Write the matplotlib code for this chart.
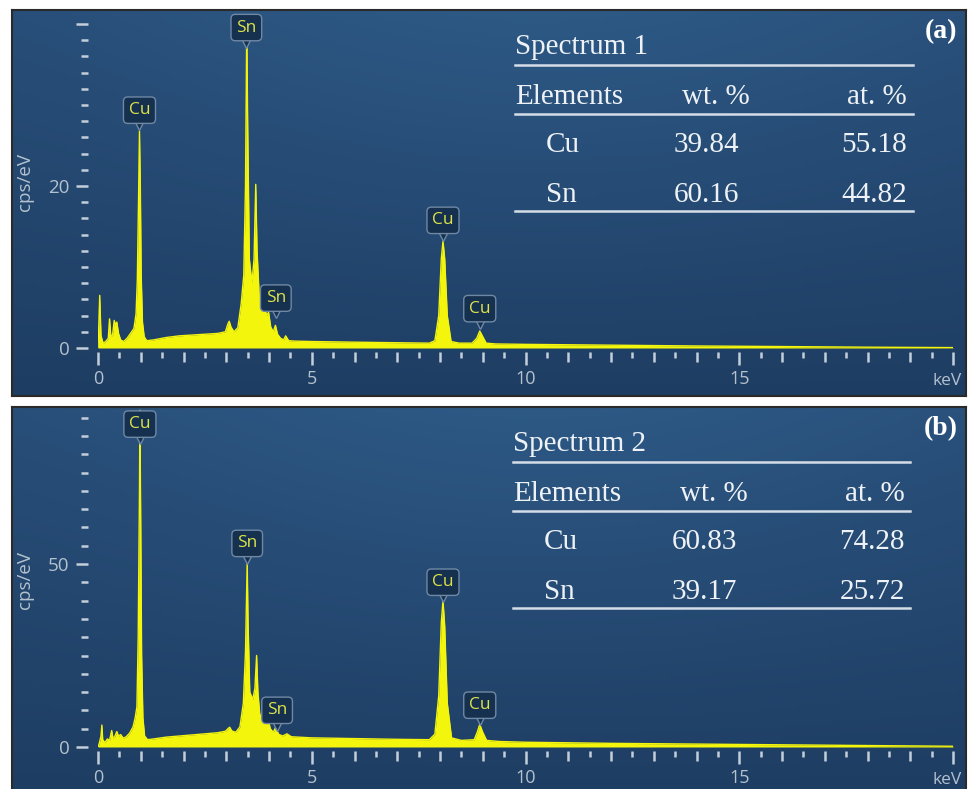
import matplotlib.pyplot as plt
import numpy as np
from matplotlib.transforms import offset_copy

W, H = 969, 789

#%% spectrum (a)
energy_a = [0.00, 0.02, 0.04, 0.07, 0.12, 0.18, 0.24, 0.27, 0.30, 0.34, 0.38, 0.41, 0.44, 0.48,
            0.53, 0.60, 0.68, 0.76, 0.84, 0.89, 0.92, 0.95, 0.97, 0.99, 1.01, 1.04, 1.08, 1.14,
            1.3, 1.6, 1.9, 2.2, 2.5, 2.8, 2.98, 3.04, 3.07, 3.11, 3.18, 3.27, 3.35, 3.41, 3.45,
            3.48, 3.50, 3.54, 3.60, 3.65, 3.69, 3.72, 3.77, 3.83, 3.89, 3.94, 3.99, 4.04, 4.10,
            4.15, 4.20, 4.27, 4.34, 4.39, 4.46, 4.6, 5.0, 6.0, 7.0, 7.75, 7.88, 7.97, 8.03, 8.07,
            8.11, 8.17, 8.26, 8.45, 8.75, 8.86, 8.93, 9.00, 9.08, 9.3, 10, 12, 14, 16, 18, 20]
cps_a = [0.0, 3.0, 6.5, 1.5, 0.6, 0.8, 1.2, 3.6, 1.4, 1.6, 3.4, 2.8, 3.2, 1.8,
         1.0, 0.8, 1.2, 1.8, 2.4, 4.2, 8.5, 19.0, 26.8, 20.0, 9.0, 3.2, 1.4, 0.9,
         1.0, 1.3, 1.5, 1.6, 1.7, 1.8, 2.0, 3.0, 3.3, 2.6, 2.0, 2.5, 5.5, 9.0, 20.0,
         40.0, 28.0, 11.0, 8.0, 11.0, 20.2, 12.0, 6.5, 5.0, 5.5, 4.0, 4.4, 2.6, 2.0,
         2.8, 1.7, 1.2, 1.0, 1.5, 0.9, 0.85, 0.8, 0.72, 0.65, 0.6, 0.9, 4.0, 11.0, 13.2,
         11.0, 4.0, 0.8, 0.6, 0.6, 1.2, 2.1, 1.4, 0.6, 0.5, 0.45, 0.35, 0.25, 0.18, 0.1, 0.05]

#%% spectrum (b)
energy_b = [0.00, 0.03, 0.07, 0.09, 0.11, 0.16, 0.22, 0.27, 0.32, 0.35, 0.39, 0.44, 0.48, 0.53,
            0.59, 0.66, 0.74, 0.82, 0.87, 0.91, 0.94, 0.97, 0.98, 1.00, 1.02, 1.05, 1.09, 1.16,
            1.3, 1.6, 2.0, 2.4, 2.8, 2.98, 3.04, 3.08, 3.13, 3.22, 3.32, 3.40, 3.45, 3.49, 3.51,
            3.55, 3.62, 3.67, 3.71, 3.74, 3.79, 3.85, 3.91, 3.97, 4.03, 4.10, 4.16, 4.22, 4.32,
            4.42, 4.52, 5.0, 6.0, 7.0, 7.75, 7.88, 7.97, 8.03, 8.07, 8.11, 8.17, 8.27, 8.5, 8.8,
            8.87, 8.93, 9.00, 9.09, 9.4, 10, 12, 14, 16, 18, 20]
cps_b = [0.0, 1.0, 3.0, 6.0, 2.0, 1.2, 2.2, 1.8, 4.5, 2.4, 2.8, 4.2, 3.0, 3.4,
         2.4, 2.8, 3.8, 5.5, 8.0, 11.0, 30.0, 70.0, 92.0, 60.0, 25.0, 8.0, 3.0, 2.0,
         2.2, 2.7, 3.1, 3.5, 3.9, 4.3, 5.0, 5.4, 4.4, 4.0, 5.5, 12.0, 26.0, 50.5, 34.0,
         15.0, 13.0, 16.0, 25.0, 15.0, 8.0, 9.5, 7.0, 8.0, 5.0, 4.0, 5.5, 3.5, 3.0,
         3.6, 2.8, 2.5, 2.3, 2.1, 2.0, 3.5, 14.0, 34.0, 40.0, 33.0, 12.0, 2.5, 1.8, 2.0,
         4.0, 6.2, 4.0, 1.8, 1.5, 1.3, 1.0, 0.8, 0.6, 0.4, 0.2]

#%% peak labels
peak_names = ['Cu', 'Sn', 'Sn', 'Cu', 'Cu']
peak_kev_a = [0.97, 3.47, 4.16, 8.07, 8.93]
peak_tip_a = [27.0, 37.2, 3.8, 13.4, 2.5]
peak_kev_b = [0.98, 3.49, 4.19, 8.07, 8.93]
peak_tip_b = [83.0, 50.4, 4.8, 39.8, 6.2]

#%% quantification tables
elements = ['Cu', 'Sn']
wt_a = ['39.84', '60.16']
at_a = ['55.18', '44.82']
wt_b = ['60.83', '39.17']
at_b = ['74.28', '25.72']

kev_ticks = list(range(0, 21))
kev_labels = ['0', '5', '10', '15']
cps_ticks_a = [0, 20, 40]
cps_labels_a = ['0', '20', '']
cps_ticks_b = [0, 50]
cps_labels_b = ['0', '50']

YEL = '#f4f50c'
TICK = '#c3cedb'
LAB = '#b4c1cf'
TXT = '#eef2f6'
BOX = '#16304f'
EDGE = '#6f88a4'

fig = plt.figure(figsize=(9.69, 7.89), dpi=100)
fig.patch.set_facecolor('white')


def px_axes(x0, y0, x1, y1):
    return fig.add_axes([x0 / W, 1 - y1 / H, (x1 - x0) / W, (y1 - y0) / H])


# background shading of the instrument window
ny, nx = 120, 240
ty = np.linspace(1, 0, ny)[:, None]
tx = np.exp(-((np.linspace(0, 1, nx)[None, :] - 0.55) / 0.5) ** 2)
mix = ty * (0.5 + 0.5 * tx)
dark = np.array([0.118, 0.240, 0.388])
light = np.array([0.178, 0.348, 0.522])
grad = dark[None, None, :] + (light - dark)[None, None, :] * mix[:, :, None]


def panel(top, bottom, zero, scale, energy, cps, kevs, tips, yt, ytl, yminor,
          title, wt, at, tag, tx0, tx1):
    bg = px_axes(12, top, 966, bottom)
    bg.imshow(grad, extent=(12, 966, bottom, top), aspect='auto', zorder=0)
    bg.set_xlim(12, 966)
    bg.set_ylim(bottom, top)
    bg.set_xticks([])
    bg.set_yticks([])
    for s in bg.spines.values():
        s.set_color('#2a2a2a')
        s.set_linewidth(1.5)

    # table
    dx = tx0 - 515
    fkw = dict(fontfamily='Liberation Serif', fontsize=21, color=TXT, va='center')
    bg.text(tx0, top + 37, title, ha='left', **fkw)
    bg.text(tx0, top + 87, 'Elements', ha='left', **fkw)
    bg.text(716 + dx, top + 87, 'wt. %', ha='center', **fkw)
    bg.text(907 + dx, top + 87, 'at. %', ha='right', **fkw)
    for i, el in enumerate(elements):
        yy = top + 135 + 50 * i
        bg.text(tx0 + 31, yy, el, ha='left', **fkw)
        bg.text(706 + dx, yy, wt[i], ha='center', **fkw)
        bg.text(907 + dx, yy, at[i], ha='right', **fkw)
    for ly in (55, 104, 201):
        bg.plot([tx0, tx1], [top + ly, top + ly], color='#d5dee8', lw=1.8)
    bg.text(941, top + 22, tag, fontfamily='Liberation Serif', fontweight='bold',
            fontsize=20, color='white', ha='center', va='center')

    ax = px_axes(98, top, 953, zero)
    ax.patch.set_alpha(0)
    ax.set_xlim(0, 20)
    ax.set_ylim(0, (zero - top) / scale)
    ax.fill_between(energy, cps, 0, color=YEL, lw=0, zorder=2)
    ax.plot(energy, cps, color=YEL, lw=1.0, zorder=2)

    for s in ('top', 'right'):
        ax.spines[s].set_visible(False)
    ax.spines['bottom'].set_position(('outward', 3))
    ax.spines['left'].set_position(('outward', 7))
    ax.spines['bottom'].set_color('none')
    ax.spines['left'].set_color('none')

    ax.set_xticks(kev_ticks)
    ax.set_xticks(np.arange(0.5, 20, 1), minor=True)
    ax.set_xticklabels([str(v) if str(v) in kev_labels else '' for v in kev_ticks])
    ax.tick_params(axis='x', which='major', length=7, width=1.8, color=TICK,
                   labelcolor=LAB, labelsize=13, pad=6)
    ax.tick_params(axis='x', which='minor', length=4.5, width=1.8, color=TICK)
    for loc, tk in zip(ax.xaxis.get_majorticklocs(), ax.xaxis.get_major_ticks()):
        if loc % 5 == 0:
            tk.tick1line.set_markersize(9.5)

    ax.set_yticks(yt)
    ax.set_yticklabels(ytl)
    ax.set_yticks(np.arange(0, ax.get_ylim()[1], yminor), minor=True)
    ax.tick_params(axis='y', which='major', length=8.5, width=1.8, color=TICK,
                   labelcolor=LAB, labelsize=13.5, pad=5)
    ax.tick_params(axis='y', which='minor', length=5, width=1.8, color=TICK)
    for lab in ax.get_xticklabels() + ax.get_yticklabels():
        lab.set_fontfamily('Open Sans')

    h = zero - top
    ax.set_ylabel('cps/eV', color=LAB, fontsize=13.5, fontfamily='Open Sans')
    ax.yaxis.set_label_coords(-0.075, 0.49)
    ax.text(1.0105, -33 / h, 'keV', transform=ax.transAxes, ha='right', va='center',
            color=LAB, fontsize=12.5, fontfamily='Open Sans')

    tail = offset_copy(ax.transData, fig=fig, x=0, y=3.5, units='points')
    for name, k, tip in zip(peak_names, kevs, tips):
        ax.plot([k], [tip], marker='v', ms=9, mfc=BOX, mec=EDGE, mew=1,
                transform=tail, clip_on=False, zorder=5)
        ax.annotate(name, (k, tip), xytext=(0, 8), textcoords='offset points',
                    ha='center', va='bottom', color='#dde34a', fontsize=12.5,
                    fontfamily='Open Sans', zorder=6, annotation_clip=False,
                    bbox=dict(boxstyle='round,pad=0.3,rounding_size=0.25',
                              fc=BOX, ec=EDGE, lw=1))
    return ax


panel(10, 396, 348, 8.1, energy_a, cps_a, peak_kev_a, peak_tip_a,
      cps_ticks_a, cps_labels_a, 2, 'Spectrum 1', wt_a, at_a, '(a)', 515, 913)
panel(407, 792, 747, 3.66, energy_b, cps_b, peak_kev_b, peak_tip_b,
      cps_ticks_b, cps_labels_b, 5, 'Spectrum 2', wt_b, at_b, '(b)', 513, 910)

fig.savefig('out.png', dpi=100)
